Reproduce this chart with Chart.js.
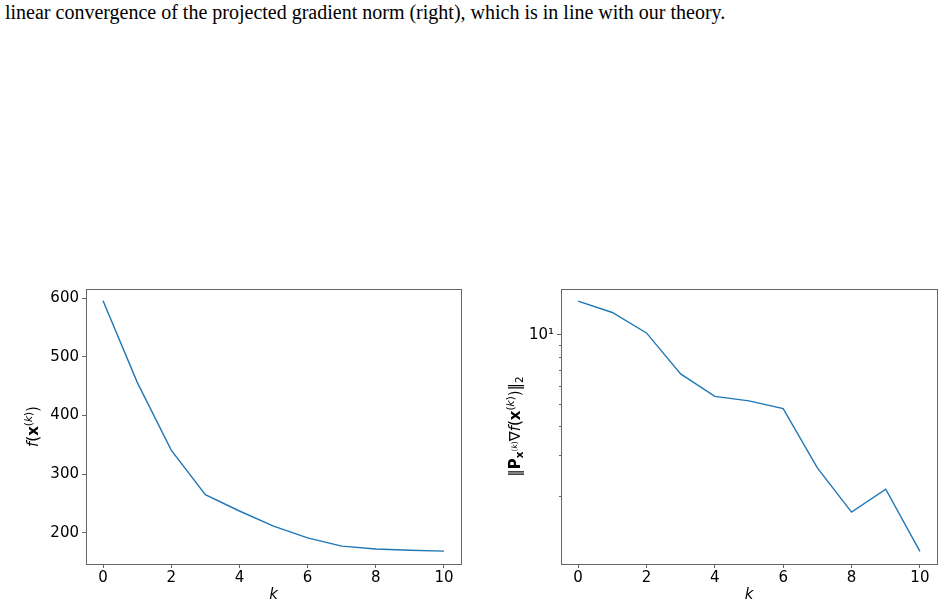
<!DOCTYPE html>
<html>
<head>
<meta charset="utf-8">
<script src="https://cdn.jsdelivr.net/npm/chart.js@4"></script>
<style>
  body { margin: 0; width: 944px; height: 608px; background: #fff; position: relative; overflow: hidden; }
  #caption { position: absolute; left: 5px; top: 1px; font-family: "Liberation Serif", "Times New Roman", serif; font-size: 20px; color: #000; white-space: nowrap; }
  .box { position: absolute; top: 280px; height: 328px; }
  #leftBox { left: 0; width: 472px; }
  #rightBox { left: 480px; width: 464px; }
</style>
</head>
<body>
<div id="caption">linear convergence of the projected gradient norm (right), which is in line with our theory.</div>
<div class="box" id="leftBox"><canvas id="objChart" width="472" height="328"></canvas></div>
<div class="box" id="rightBox"><canvas id="gradChart" width="464" height="328"></canvas></div>
<script>
const iterations = [0, 1, 2, 3, 4, 5, 6, 7, 8, 9, 10];
const objectiveValues = [596, 457, 341, 265, 237, 211, 191, 177, 172, 170, 168.5];
const gradNormValues = [14.0, 12.5, 10.2, 6.78, 5.42, 5.18, 4.80, 2.66, 1.71, 2.15, 1.156];
const xTicks = [0, 2, 4, 6, 8, 10];
const objTicks = [200, 300, 400, 500, 600];
const gradTicks = [2, 3, 4, 5, 6, 7, 8, 9, 10];

const FONT = "'DejaVu Sans', sans-serif";
const lineColor = "#1f77b4";
const spineColor = "#666";

// draws a label made of pieces with different styles (math-like text)
function drawRich(ctx, parts, cx, cy, rotate) {
    ctx.save();
    ctx.translate(cx, cy);
    if (rotate) ctx.rotate(-Math.PI / 2);
    ctx.fillStyle = "#000";
    ctx.textBaseline = "alphabetic";
    let total = 0;
    parts.forEach((p) => {
        ctx.font = (p.style || "") + " " + (p.size || 15) + "px " + FONT;
        p.w = ctx.measureText(p.t).width;
        total += p.w;
    });
    let x = -total / 2;
    parts.forEach((p) => {
        ctx.font = (p.style || "") + " " + (p.size || 15) + "px " + FONT;
        ctx.fillText(p.t, x, 5 + (p.dy || 0));
        x += p.w;
    });
    ctx.restore();
}

const frameAndTitles = {
    id: "frameAndTitles",
    afterDraw(chart, args, opts) {
        const ctx = chart.ctx;
        const a = chart.chartArea;
        ctx.save();
        ctx.strokeStyle = spineColor;
        ctx.lineWidth = 1;
        ctx.strokeRect(Math.round(a.left) + 0.5, Math.round(a.top) + 0.5,
            Math.round(a.right - a.left), Math.round(a.bottom - a.top));
        ctx.restore();
        drawRich(ctx, [{ t: "k", style: "italic" }], (a.left + a.right) / 2, a.bottom + 30, false);
        drawRich(ctx, opts.yParts, opts.yX, (a.top + a.bottom) / 2, true);
    }
};

function xScale() {
    return {
        type: "linear",
        min: -0.5,
        max: 10.5,
        afterBuildTicks: (s) => { s.ticks = xTicks.map((v) => ({ value: v })); },
        afterFit: (s) => { s.height = 44; s.paddingLeft = 0; s.paddingRight = 0; },
        border: { display: false },
        grid: { drawOnChartArea: false, tickLength: 4, tickColor: spineColor },
        ticks: { font: { family: FONT, size: 15 }, color: "#000", padding: 1, maxRotation: 0,
            callback: (v) => String(v) }
    };
}

const sup = { size: 10.5, dy: -6 };

// left: objective value
new Chart(document.getElementById("objChart"), {
    type: "line",
    data: {
        datasets: [{
            data: iterations.map((k, i) => ({ x: k, y: objectiveValues[i] })),
            borderColor: lineColor,
            borderWidth: 1.4,
            pointRadius: 0,
            fill: false,
            tension: 0
        }]
    },
    options: {
        responsive: false,
        animation: false,
        layout: { padding: { top: 9, right: 11, left: 0, bottom: 0 } },
        plugins: {
            legend: { display: false },
            tooltip: { enabled: false },
            frameAndTitles: {
                yX: 33,
                yParts: [
                    { t: "f", style: "italic" }, { t: "(" }, { t: "x", style: "bold" },
                    Object.assign({ t: "(" }, sup), Object.assign({ t: "k", style: "italic" }, sup),
                    Object.assign({ t: ")" }, sup), { t: ")" }
                ]
            }
        },
        scales: {
            x: xScale(),
            y: {
                type: "linear",
                min: 146.5,
                max: 616,
                afterBuildTicks: (s) => { s.ticks = objTicks.map((v) => ({ value: v })); },
                afterFit: (s) => { s.width = 86; s.paddingTop = 0; s.paddingBottom = 0; },
                border: { display: false },
                grid: { drawOnChartArea: false, tickLength: 4, tickColor: spineColor },
                ticks: { font: { family: FONT, size: 15 }, color: "#000", padding: 3 }
            }
        }
    },
    plugins: [frameAndTitles]
});

// right: projected gradient norm, log scale
new Chart(document.getElementById("gradChart"), {
    type: "line",
    data: {
        datasets: [{
            data: iterations.map((k, i) => ({ x: k, y: gradNormValues[i] })),
            borderColor: lineColor,
            borderWidth: 1.4,
            pointRadius: 0,
            fill: false,
            tension: 0
        }]
    },
    options: {
        responsive: false,
        animation: false,
        layout: { padding: { top: 9, right: 7, left: 0, bottom: 0 } },
        plugins: {
            legend: { display: false },
            tooltip: { enabled: false },
            frameAndTitles: {
                yX: 35,
                yParts: [
                    { t: "‖" }, { t: "P", style: "bold" },
                    { t: "x", style: "bold", size: 10.5, dy: 3 },
                    { t: "(", size: 7.5, dy: -3 }, { t: "k", style: "italic", size: 7.5, dy: -3 }, { t: ")", size: 7.5, dy: -3 },
                    { t: "∇" }, { t: "f", style: "italic" }, { t: "(" }, { t: "x", style: "bold" },
                    Object.assign({ t: "(" }, sup), Object.assign({ t: "k", style: "italic" }, sup),
                    Object.assign({ t: ")" }, sup), { t: ")" }, { t: "‖" },
                    { t: "2", size: 10.5, dy: 3 }
                ]
            }
        },
        scales: {
            x: xScale(),
            y: {
                type: "logarithmic",
                min: 1.02,
                max: 15.8,
                afterBuildTicks: (s) => { s.ticks = gradTicks.map((v) => ({ value: v, major: v === 10 })); },
                afterFit: (s) => { s.width = 81; s.paddingTop = 0; s.paddingBottom = 0; },
                border: { display: false },
                grid: {
                    drawOnChartArea: false,
                    tickLength: 4,
                    tickColor: spineColor,
                    // minor ticks: only the part next to the axis is drawn
                    tickBorderDash: (c) => (c.tick && c.tick.value === 10 ? [] : [2, 100]),
                    tickBorderDashOffset: (c) => (c.tick && c.tick.value === 10 ? 0 : 100)
                },
                ticks: {
                    font: { family: FONT, size: 15 }, color: "#000", padding: 3, autoSkip: false,
                    callback: (v) => (v === 10 ? "10¹" : "")
                }
            }
        }
    },
    plugins: [frameAndTitles]
});
</script>
</body>
</html>
